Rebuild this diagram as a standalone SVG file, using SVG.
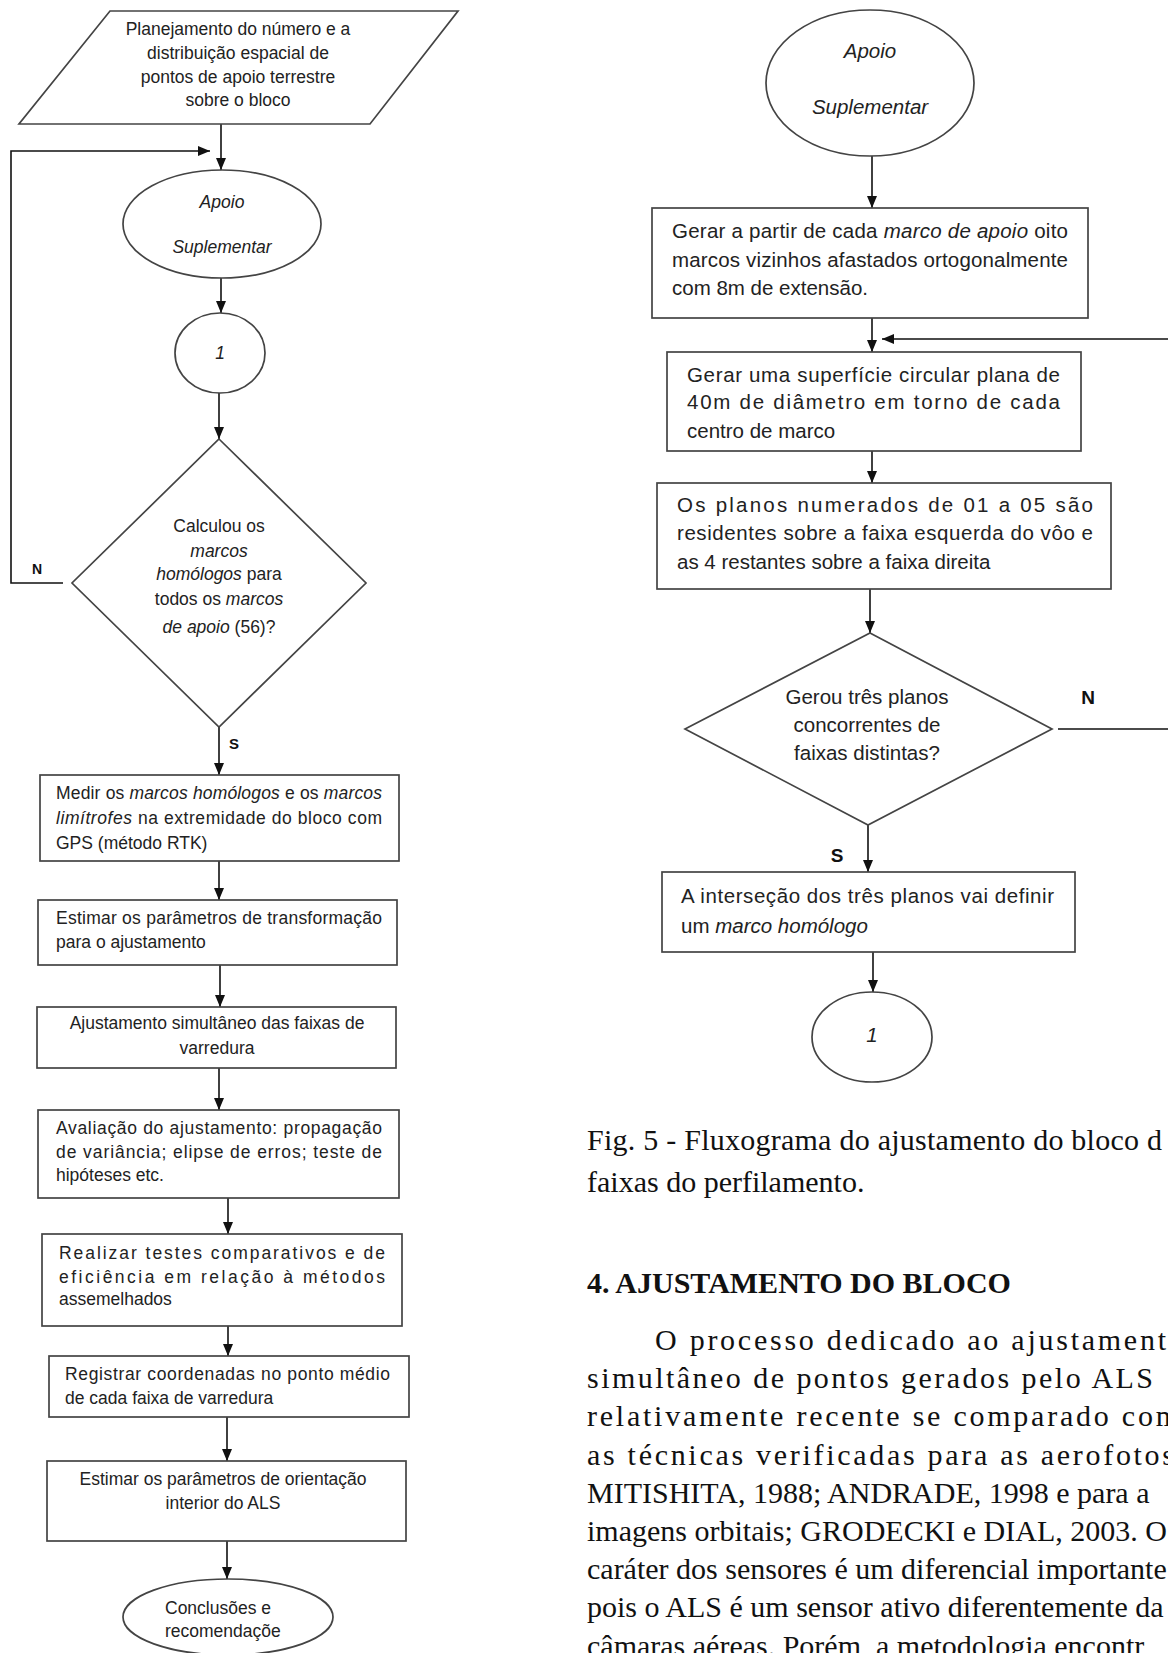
<svg xmlns="http://www.w3.org/2000/svg" width="1168" height="1653" viewBox="0 0 1168 1653">
<style>
.shape{fill:#fff;stroke:#444;stroke-width:1.7}
.con{fill:none;stroke:#111;stroke-width:1.6}
.t{font-family:"Liberation Sans",Arial,sans-serif;font-size:17.5px;fill:#222}
.tr{font-family:"Liberation Sans",Arial,sans-serif;font-size:20.5px;fill:#222}
.i{font-style:italic}
.m{text-anchor:middle}
.lbl{font-family:"Liberation Sans",Arial,sans-serif;font-weight:bold;fill:#111}
.cap{font-family:"Liberation Serif","Times New Roman",serif;font-size:30px;fill:#111}
.h{font-family:"Liberation Serif","Times New Roman",serif;font-size:30px;font-weight:bold;fill:#111}
</style>
<defs>
<marker id="ah" viewBox="0 0 12 10" refX="12" refY="5" markerWidth="12" markerHeight="10" markerUnits="userSpaceOnUse" orient="auto"><path d="M0,0 L12,5 L0,10 z" fill="#111"/></marker>
</defs>

<g id="connectors">
<line class="con" x1="221" y1="124" x2="221" y2="170" marker-end="url(#ah)"/>
<polyline class="con" points="63,583 11,583 11,151 210,151" marker-end="url(#ah)"/>
<line class="con" x1="221" y1="278" x2="221" y2="313" marker-end="url(#ah)"/>
<line class="con" x1="219" y1="393" x2="219" y2="439" marker-end="url(#ah)"/>
<line class="con" x1="219" y1="727" x2="219" y2="775" marker-end="url(#ah)"/>
<line class="con" x1="219" y1="861" x2="219" y2="900" marker-end="url(#ah)"/>
<line class="con" x1="220" y1="965" x2="220" y2="1007" marker-end="url(#ah)"/>
<line class="con" x1="219" y1="1068" x2="219" y2="1110" marker-end="url(#ah)"/>
<line class="con" x1="228" y1="1198" x2="228" y2="1234" marker-end="url(#ah)"/>
<line class="con" x1="228" y1="1326" x2="228" y2="1356" marker-end="url(#ah)"/>
<line class="con" x1="227" y1="1417" x2="227" y2="1461" marker-end="url(#ah)"/>
<line class="con" x1="227" y1="1541" x2="227" y2="1579" marker-end="url(#ah)"/>

<line class="con" x1="872" y1="156" x2="872" y2="208" marker-end="url(#ah)"/>
<line class="con" x1="872" y1="318" x2="872" y2="352" marker-end="url(#ah)"/>
<polyline class="con" points="1058,729 1180,729 1180,339 882,339" marker-end="url(#ah)"/>
<line class="con" x1="872" y1="451" x2="872" y2="483" marker-end="url(#ah)"/>
<line class="con" x1="870" y1="589" x2="870" y2="633" marker-end="url(#ah)"/>
<line class="con" x1="868" y1="825" x2="868" y2="872" marker-end="url(#ah)"/>
<line class="con" x1="873" y1="952" x2="873" y2="992" marker-end="url(#ah)"/>
<text class="lbl" x="37" y="574" font-size="14" text-anchor="middle">N</text>
<text class="lbl" x="234" y="749" font-size="15" text-anchor="middle">S</text>
<text class="lbl" x="1088" y="704" font-size="19" text-anchor="middle">N</text>
<text class="lbl" x="837" y="862" font-size="19" text-anchor="middle">S</text>
</g>

<g id="planejamento">
<polygon class="shape" points="110,11 458,11 370,124 19,124"/>
<text class="t m" x="238" y="35">Planejamento do número e a</text>
<text class="t m" x="238" y="59">distribuição espacial de</text>
<text class="t m" x="238" y="83">pontos de apoio terrestre</text>
<text class="t m" x="238" y="106">sobre o bloco</text>
</g>

<g id="apoio-left">
<ellipse class="shape" cx="222" cy="224" rx="99" ry="54"/>
<text class="t m i" x="222" y="208">Apoio</text>
<text class="t m i" x="222" y="253">Suplementar</text>
</g>

<g id="conector-1-left">
<ellipse class="shape" cx="220" cy="353" rx="45" ry="40"/>
<text class="t m i" x="220" y="359">1</text>
</g>

<g id="decisao-left">
<polygon class="shape" points="219,439 366,583 219,727 72,583"/>
<text class="t m" x="219" y="532">Calculou os</text>
<text class="t m" x="219" y="557"><tspan class="i">marcos</tspan></text>
<text class="t m" x="219" y="580"><tspan class="i">homólogos</tspan> para</text>
<text class="t m" x="219" y="605">todos os <tspan class="i">marcos</tspan></text>
<text class="t m" x="219" y="633"><tspan class="i">de apoio</tspan> (56)?</text>
</g>

<g id="medir">
<rect class="shape" x="40" y="775" width="359" height="86"/>
<text class="t" x="56" y="799" textLength="326">Medir os <tspan class="i">marcos homólogos</tspan> e os <tspan class="i">marcos</tspan></text>
<text class="t" x="56" y="824" textLength="326"><tspan class="i">limítrofes</tspan> na extremidade do bloco com</text>
<text class="t" x="56" y="849">GPS (método RTK)</text>
</g>

<g id="estimar-transf">
<rect class="shape" x="38" y="900" width="359" height="65"/>
<text class="t" x="56" y="924" textLength="326">Estimar os parâmetros de transformação</text>
<text class="t" x="56" y="948">para o ajustamento</text>
</g>

<g id="ajustamento">
<rect class="shape" x="37" y="1007" width="359" height="61"/>
<text class="t m" x="217" y="1029">Ajustamento simultâneo das faixas de</text>
<text class="t m" x="217" y="1054">varredura</text>
</g>

<g id="avaliacao">
<rect class="shape" x="38" y="1110" width="361" height="88"/>
<text class="t" x="56" y="1134" textLength="326">Avaliação do ajustamento: propagação</text>
<text class="t" x="56" y="1158" textLength="326">de variância; elipse de erros; teste de</text>
<text class="t" x="56" y="1181">hipóteses etc.</text>
</g>

<g id="testes">
<rect class="shape" x="42" y="1234" width="360" height="92"/>
<text class="t" x="59" y="1259" textLength="326">Realizar testes comparativos e de</text>
<text class="t" x="59" y="1283" textLength="326">eficiência em relação à métodos</text>
<text class="t" x="59" y="1305">assemelhados</text>
</g>

<g id="registrar">
<rect class="shape" x="49" y="1356" width="360" height="61"/>
<text class="t" x="65" y="1380" textLength="325">Registrar coordenadas no ponto médio</text>
<text class="t" x="65" y="1404">de cada faixa de varredura</text>
</g>

<g id="estimar-orient">
<rect class="shape" x="47" y="1461" width="359" height="80"/>
<text class="t m" x="223" y="1485">Estimar os parâmetros de orientação</text>
<text class="t m" x="223" y="1509">interior do ALS</text>
</g>

<g id="conclusoes">
<ellipse class="shape" cx="228" cy="1617" rx="105" ry="38"/>
<text class="t" x="165" y="1614">Conclusões e</text>
<text class="t" x="165" y="1637">recomendaçõe</text>
</g>

<g id="apoio-right">
<ellipse class="shape" cx="870" cy="83" rx="104" ry="73"/>
<text class="tr m i" x="870" y="58">Apoio</text>
<text class="tr m i" x="870" y="114">Suplementar</text>
</g>

<g id="gerar-marcos">
<rect class="shape" x="652" y="208" width="436" height="110"/>
<text class="tr" x="672" y="238" textLength="396">Gerar a partir de cada <tspan class="i">marco de apoio</tspan> oito</text>
<text class="tr" x="672" y="267" textLength="396">marcos vizinhos afastados ortogonalmente</text>
<text class="tr" x="672" y="295">com 8m de extensão.</text>
</g>

<g id="gerar-superficie">
<rect class="shape" x="667" y="352" width="414" height="99"/>
<text class="tr" x="687" y="382" textLength="373">Gerar uma superfície circular plana de</text>
<text class="tr" x="687" y="409" textLength="373">40m de diâmetro em torno de cada</text>
<text class="tr" x="687" y="438">centro de marco</text>
</g>

<g id="planos">
<rect class="shape" x="657" y="483" width="454" height="106"/>
<text class="tr" x="677" y="512" textLength="416">Os planos numerados de 01 a 05 são</text>
<text class="tr" x="677" y="540" textLength="416">residentes sobre a faixa esquerda do vôo e</text>
<text class="tr" x="677" y="569">as 4 restantes sobre a faixa direita</text>
</g>

<g id="decisao-right">
<polygon class="shape" points="870,633 1052,729 868,825 685,729"/>
<text class="tr m" x="867" y="704">Gerou três planos</text>
<text class="tr m" x="867" y="732">concorrentes de</text>
<text class="tr m" x="867" y="760">faixas distintas?</text>
</g>

<g id="intersecao">
<rect class="shape" x="662" y="872" width="413" height="80"/>
<text class="tr" x="681" y="903" textLength="373">A interseção dos três planos vai definir</text>
<text class="tr" x="681" y="933">um <tspan class="i">marco homólogo</tspan></text>
</g>

<g id="conector-1-right">
<ellipse class="shape" cx="872" cy="1037" rx="60" ry="45"/>
<text class="tr m i" x="872" y="1042">1</text>
</g>

<g id="texto">
<text class="cap" x="587" y="1150" textLength="575">Fig. 5 - Fluxograma do ajustamento do bloco d</text>
<text class="cap" x="587" y="1192">faixas do perfilamento.</text>
<text class="h" x="587" y="1293">4. AJUSTAMENTO DO BLOCO</text>
<text class="cap" x="655" y="1350" textLength="511">O processo dedicado ao ajustament</text>
<text class="cap" x="587" y="1388" textLength="566">simultâneo de pontos gerados pelo ALS</text>
<text class="cap" x="587" y="1426" textLength="592">relativamente recente se comparado com</text>
<text class="cap" x="587" y="1465" textLength="587">as técnicas verificadas para as aerofotos</text>
<text class="cap" x="587" y="1503">MITISHITA, 1988; ANDRADE, 1998 e para a</text>
<text class="cap" x="587" y="1541">imagens orbitais; GRODECKI e DIAL, 2003. O</text>
<text class="cap" x="587" y="1579">caráter dos sensores é um diferencial importante</text>
<text class="cap" x="587" y="1617">pois o ALS é um sensor ativo diferentemente da</text>
<text class="cap" x="587" y="1656">câmaras aéreas. Porém, a metodologia encontr</text>
</g>
</svg>
